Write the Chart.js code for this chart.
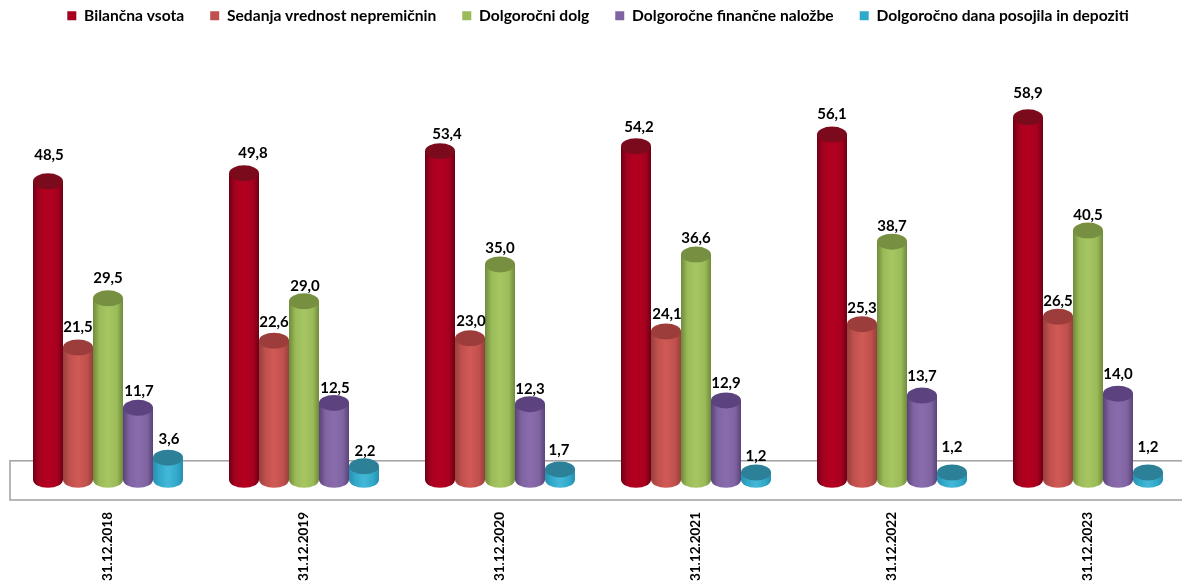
<!DOCTYPE html>
<html><head><meta charset="utf-8">
<style>html,body{margin:0;padding:0;background:#fff;overflow:hidden;width:1182px;height:585px}#w{width:1206px;height:585px}</style>
<script src="https://cdn.jsdelivr.net/npm/chart.js@4/dist/chart.umd.min.js"></script>
</head><body><div id="w"><canvas id="c" width="1206" height="585" style="display:block"></canvas></div>
<script>
const categories = ["31.12.2018","31.12.2019","31.12.2020","31.12.2021","31.12.2022","31.12.2023"];
const bilancnaVsota = [48.5,49.8,53.4,54.2,56.1,58.9];
const sedanjaVrednost = [21.5,22.6,23.0,24.1,25.3,26.5];
const dolgorocniDolg = [29.5,29.0,35.0,36.6,38.7,40.5];
const financneNalozbe = [11.7,12.5,12.3,12.9,13.7,14.0];
const posojilaDepoziti = [3.6,2.2,1.7,1.2,1.2,1.2];
const seriesNames = ["Bilančna vsota","Sedanja vrednost nepremičnin","Dolgoročni dolg","Dolgoročne finančne naložbe","Dolgoročno dana posojila in depoziti"];
const seriesValues = [bilancnaVsota,sedanjaVrednost,dolgorocniDolg,financneNalozbe,posojilaDepoziti];

const palettes = [
 {key:"#a8001f",edge:"#6f0015",mid:"#b4001f",top:"#7c0a1d"},
 {key:"#c0504d",edge:"#96403c",mid:"#d15a55",top:"#9c3d3b"},
 {key:"#9bbb59",edge:"#6f8a3b",mid:"#a6c663",top:"#778f41"},
 {key:"#8064a2",edge:"#5a4377",mid:"#8a6cae",top:"#5c4380"},
 {key:"#31a9c9",edge:"#2a8fae",mid:"#45b8d8",top:"#2c8198"}
];
const labelLift = [
 [26,20,17,19,20,24],[20,19,17,17,16,16],[20,15,16,16,15.5,15.5],[17,15,15,17,19,19.5],[19,15,19,16,25,25]
];
const labelShift = [[1,9,7,3,0,0],[0,0,1,1,0,0],[0,1,0,0,0,0],[1,1,0,0,0,0],[1,1,-1,0,0,0]];
const floorTopValue = 3.1;
const capRy = 8;

const cylinders = {
 id:"cylinders",
 beforeDatasetsDraw(chart){
  const {ctx,chartArea:a,scales:{y}} = chart;
  ctx.save();
  ctx.strokeStyle="#a6a6a6";ctx.lineWidth=1.6;
  const t=y.getPixelForValue(floorTopValue);
  ctx.strokeRect(a.left,t,a.right-a.left,a.bottom-t);
  ctx.restore();
 },
 afterDatasetsDraw(chart){
  const {ctx}=chart;
  ctx.save();
  chart.data.datasets.forEach((ds,i)=>{
   const p=palettes[i];
   chart.getDatasetMeta(i).data.forEach(el=>{
    const l=el.x-el.width/2,r=el.x+el.width/2,rx=el.width/2;
    const g=ctx.createLinearGradient(l,0,r,0);
    g.addColorStop(0,p.edge);g.addColorStop(.22,p.key);g.addColorStop(.5,p.mid);g.addColorStop(.8,p.key);g.addColorStop(1,p.edge);
    ctx.fillStyle=g;
    ctx.beginPath();
    ctx.moveTo(l,el.y);
    ctx.lineTo(l,el.base);
    ctx.ellipse(el.x,el.base,rx,capRy,0,Math.PI,0,true);
    ctx.lineTo(r,el.y);
    ctx.closePath();ctx.fill();
    ctx.fillStyle=p.top;
    ctx.beginPath();ctx.ellipse(el.x,el.y,rx,capRy,0,0,Math.PI*2);ctx.fill();
   });
  });
  ctx.fillStyle="#000";ctx.textAlign="center";ctx.textBaseline="middle";
  ctx.font="bold 15px Lato";
  chart.data.datasets.forEach((ds,i)=>{
   chart.getDatasetMeta(i).data.forEach((el,j)=>{
    ctx.fillText(ds.data[j].toFixed(1).replace(".",","),el.x+labelShift[i][j],el.y-labelLift[i][j]);
   });
  });
  ctx.restore();
 }
};

new Chart(document.getElementById("c"),{
 type:"bar",
 data:{labels:categories,datasets:seriesNames.map((n,i)=>({label:n,data:seriesValues[i],backgroundColor:palettes[i].key,borderWidth:0}))},
 options:{
  responsive:false,animation:false,devicePixelRatio:1,
  layout:{padding:{left:10,right:20,top:-18,bottom:0}},
  datasets:{bar:{categoryPercentage:150/196,barPercentage:1}},
  plugins:{
   tooltip:{enabled:false},
   legend:{position:"top",labels:{boxWidth:9,boxHeight:9,padding:26,color:"#000",font:{family:"Lato",weight:"bold",size:15.6}}}
  },
  scales:{
   x:{grid:{display:false},border:{display:false},afterFit(s){s.height=85;},
      ticks:{autoSkip:false,minRotation:90,maxRotation:90,padding:4,color:"#000",font:{family:"Lato",weight:"bold",size:13.5}}},
   y:{display:false,min:-3.27,max:72.5,grid:{display:false}}
  }
 },
 plugins:[cylinders]
});
</script></body></html>
